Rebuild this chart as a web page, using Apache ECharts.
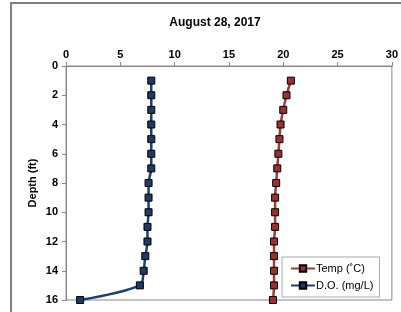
<!DOCTYPE html>
<html>
<head>
<meta charset="utf-8">
<script src="https://cdn.jsdelivr.net/npm/echarts@6/dist/echarts.min.js"></script>
<style>
  html, body { margin: 0; padding: 0; background: #fff; }
  #chart { width: 401px; height: 312px; }
</style>
</head>
<body>
<div id="chart"></div>
<script>
// depth in ft, readings
const depths = [1, 2, 3, 4, 5, 6, 7, 8, 9, 10, 11, 12, 13, 14, 15, 16]
const tempC = [20.7, 20.3, 20.0, 19.75, 19.65, 19.55, 19.45, 19.35, 19.25, 19.25, 19.25, 19.15, 19.15, 19.15, 19.15, 19.05]
const doMgL = [7.85, 7.85, 7.85, 7.85, 7.85, 7.85, 7.85, 7.6, 7.6, 7.6, 7.5, 7.5, 7.3, 7.15, 6.8, 1.3]

const chart = echarts.init(document.getElementById('chart'))

const font = 'Arial, "Liberation Sans", sans-serif'

const pairs = (vals) => vals.map((v, i) => [v, depths[i]])

chart.setOption({
  animation: false,
  title: {
    text: 'August 28, 2017',
    left: 210,
    top: 12,
    textAlign: 'center',
    textStyle: { fontFamily: font, fontSize: 12, fontWeight: 'bold', color: '#000' }
  },
  graphic: [
    {
      type: 'rect',
      shape: { x: 11, y: 3, width: 400, height: 320 },
      style: { fill: 'none', stroke: '#808080', lineWidth: 2 },
      silent: true
    }
  ],
  grid: {
    left: 66,
    top: 66,
    right: 9,
    bottom: 12,
    show: true,
    borderColor: '#888',
    borderWidth: 1
  },
  legend: {
    orient: 'vertical',
    left: 282,
    top: 257,
    itemWidth: 24,
    itemHeight: 8,
    itemGap: 6,
    padding: [6, 6, 6, 8],
    borderColor: '#aaa',
    borderWidth: 1,
    backgroundColor: '#fff',
    textStyle: { fontFamily: font, fontSize: 11, color: '#000', padding: [0, 0, 0, -4] },
    data: ['Temp (˚C)', 'D.O. (mg/L)']
  },
  xAxis: {
    type: 'value',
    position: 'top',
    min: 0,
    max: 30,
    interval: 5,
    axisLine: { show: true, lineStyle: { color: '#888' } },
    axisTick: { show: true, length: 4, lineStyle: { color: '#888' } },
    axisLabel: { fontFamily: font, fontSize: 11, fontWeight: 'bold', color: '#000', margin: 6 },
    splitLine: { show: false }
  },
  yAxis: {
    type: 'value',
    inverse: true,
    min: 0,
    max: 16,
    interval: 2,
    name: 'Depth (ft)',
    nameLocation: 'middle',
    nameGap: 28,
    nameMoveOverlap: false,
    nameTextStyle: { fontFamily: font, fontSize: 11, fontWeight: 'bold', color: '#000' },
    axisLine: { show: true, lineStyle: { color: '#888' } },
    axisTick: { show: true, length: 4, lineStyle: { color: '#888' } },
    axisLabel: { fontFamily: font, fontSize: 11, fontWeight: 'bold', color: '#000', margin: 8 },
    splitLine: { show: false }
  },
  series: [
    {
      name: 'Temp (˚C)',
      type: 'line',
      data: pairs(tempC),
      smooth: 0.3,
      symbol: 'rect',
      symbolSize: 7,
      lineStyle: { color: '#a23c3c', width: 2.5 },
      itemStyle: { color: '#983232', borderColor: '#000', borderWidth: 1 }
    },
    {
      name: 'D.O. (mg/L)',
      type: 'line',
      data: pairs(doMgL),
      smooth: 0.3,
      symbol: 'rect',
      symbolSize: 7,
      lineStyle: { color: '#1f3f6e', width: 2.5 },
      itemStyle: { color: '#1f3a64', borderColor: '#000', borderWidth: 1 }
    }
  ]
})
</script>
</body>
</html>
